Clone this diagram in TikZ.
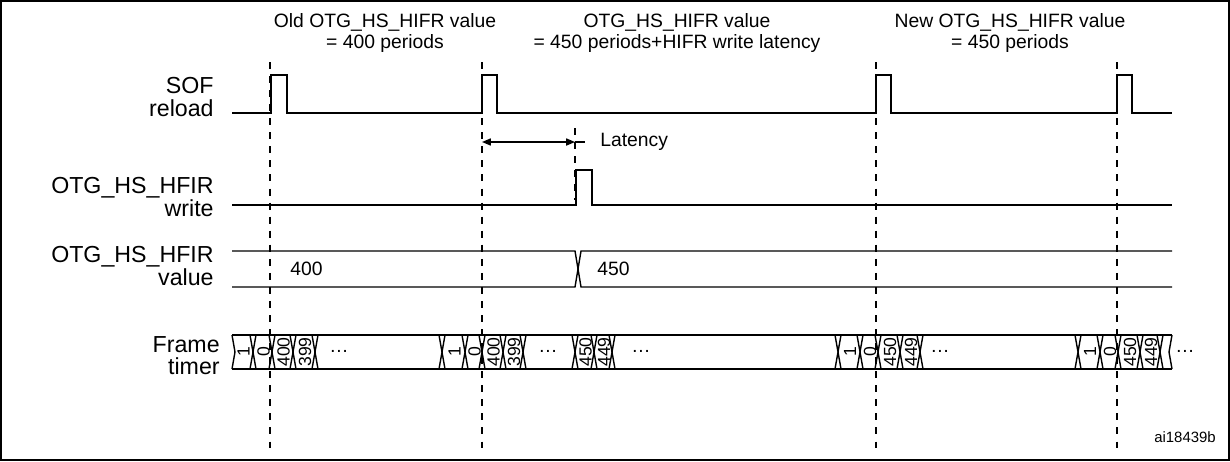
\documentclass[tikz,border=0pt]{standalone}
\usepackage{fontspec}
\setmainfont{Liberation Sans}
\usetikzlibrary{arrows.meta}
\begin{document}
\begin{tikzpicture}[x=0.02cm,y=-0.02cm,
  sig/.style={line width=0.8pt},
  guide/.style={dash pattern=on 4pt off 4pt,line width=0.6pt},
  lbl/.style={font=\fontsize{13.2}{12.6}\selectfont,align=right,anchor=east,inner sep=0pt},
  txt/.style={font=\fontsize{11}{11.4}\selectfont,align=center,inner sep=0pt},
  num/.style={font=\fontsize{10}{10}\selectfont,rotate=90,inner sep=0pt}]
\useasboundingbox (0,0) rectangle (1230,461);
\draw[line width=0.6pt] (1,1) rectangle (1229,460);
% guides
\foreach \x in {270,482,876,1117} \draw[guide] (\x,62) -- (\x,448);
\draw[guide] (575,128) -- (575,200);
% top labels
\node[txt] (t1) at (385,33) {Old OTG\_HS\_HIFR value\\= 400 periods};
\node[txt] (t2) at (677,33) {OTG\_HS\_HIFR value\\= 450 periods+HIFR write latency};
\node[txt] (t3) at (1010,33) {New OTG\_HS\_HIFR value\\= 450 periods};
% row labels
\node[lbl] (l1) at (214,97) {SOF\\reload};
\node[lbl] (l2) at (214,197) {OTG\_HS\_HFIR\\write};
\node[lbl] (l3) at (214,266) {OTG\_HS\_HFIR\\value};
\node[lbl] (l4) at (220,356) {Frame\\timer};
% SOF
\draw[sig] (232,113) -- (271,113) |- (287,75) |- (482,113) |- (497,75) |- (876,113) |- (891,75) |- (1117,113) |- (1132,75) |- (1172,113);
% latency
\draw[sig,{Triangle[length=5pt,width=4pt]}-{Triangle[length=5pt,width=4pt]}] (482,142) -- (575,142);
\draw[sig] (575,142) -- (585,142);
\node[txt,anchor=west] (lat) at (600,142) {Latency};
% write
\draw[sig] (232,205) -- (576,205) |- (592,170) |- (1172,205);
% value bus
\draw[sig] (232,251) -- (575,251) -- (581,287) -- (1172,287);
\draw[sig] (232,287) -- (575,287) -- (581,251) -- (1172,251);
\node[txt,anchor=west] (v1) at (290,269) {400};
\node[txt,anchor=west] (v2) at (597,269) {450};
% frame timer
\draw[sig] (232,335) -- (1172,335);
\draw[sig] (232,369) -- (1172,369);
\foreach \x in {253,272,293,315,442,465,482,503,523,575,594,612,838,860,878,900,920,1078,1100,1118,1140,1160}
  \draw[sig] (\x-3,335) -- (\x+3,369) (\x+3,335) -- (\x-3,369);
\draw[sig] (232,335) -- (235,352) -- (232,369);
\draw[sig] (1172,335) -- (1169,352) -- (1172,369);
\foreach \a/\b/\t in {232/253/1,253/272/0,272/293/400,293/315/399,442/465/1,465/482/0,482/503/400,503/523/399,575/594/450,594/612/449,838/860/1,860/878/0,878/900/450,900/920/449,1078/1100/1,1100/1118/0,1118/1140/450,1140/1160/449}
  \node[num] at ({(\a+\b)/2+1},352) {\t};
\node[txt] (d1) at (339,351) {\dots};
\node[txt] (d2) at (548,351) {\dots};
\node[txt] (d3) at (641,351) {\dots};
\node[txt] (d4) at (940,351) {\dots};
\node[txt] (d5) at (1185,351) {\dots};
\node[txt,font=\fontsize{8.5}{9}\selectfont] (id) at (1185,437) {ai18439b};
\end{tikzpicture}
\end{document}
